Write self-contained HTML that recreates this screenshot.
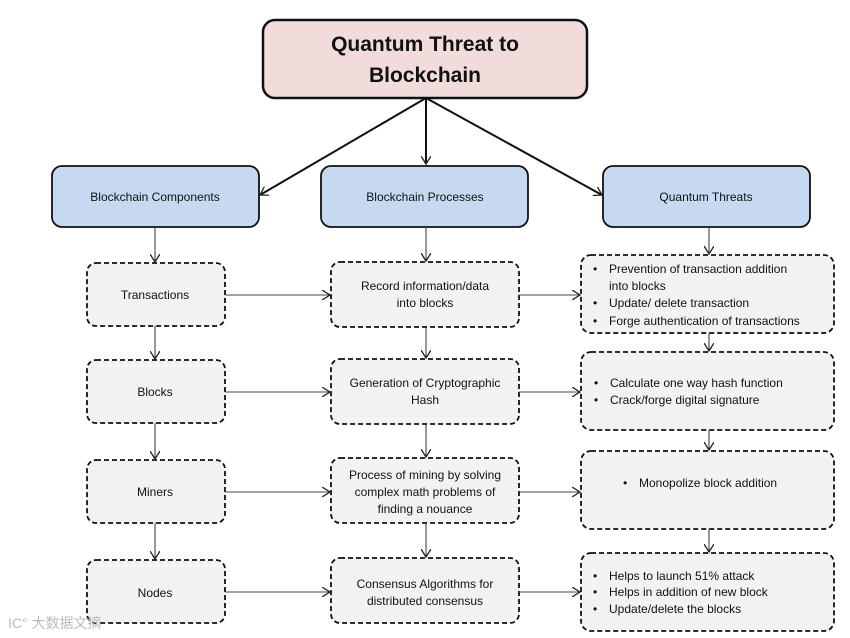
<!DOCTYPE html>
<html><head><meta charset="utf-8"><style>body{margin:0;background:#fff}svg{display:block}text{font-family:"Liberation Sans","DejaVu Sans",sans-serif;fill:#111}</style></head><body>
<svg width="850" height="638" viewBox="0 0 850 638" xmlns="http://www.w3.org/2000/svg">
<defs><marker id="a" markerWidth="10" markerHeight="10" refX="8" refY="5" orient="auto" markerUnits="userSpaceOnUse"><path d="M0,0 L8,5 L0,10" fill="none" stroke="#222" stroke-width="1.3"/></marker></defs>
<rect x="263" y="20" width="324" height="78" rx="12" fill="#f2dcdb" stroke="#111" stroke-width="2.5"/>
<text x="425" y="51" font-size="21" font-weight="bold" text-anchor="middle">Quantum Threat to</text>
<text x="425" y="82" font-size="21" font-weight="bold" text-anchor="middle">Blockchain</text>
<g stroke="#111" stroke-width="2" marker-end="url(#a)"><line x1="426" y1="98" x2="260" y2="195"/><line x1="426" y1="98" x2="426" y2="164"/><line x1="426" y1="98" x2="602" y2="195"/></g>
<g fill="#c6d9f1" stroke="#111" stroke-width="1.8">
<rect x="52" y="166" width="207" height="61" rx="10"/><rect x="321" y="166" width="207" height="61" rx="10"/><rect x="603" y="166" width="207" height="61" rx="10"/></g>
<g font-size="12" text-anchor="middle"><text x="155" y="201">Blockchain Components</text><text x="425" y="201">Blockchain Processes</text><text x="706" y="201">Quantum Threats</text></g>
<g fill="#f2f2f2" stroke="#111" stroke-width="1.8" stroke-dasharray="5,3">
<rect x="87" y="263" width="138" height="63" rx="9"/><rect x="87" y="360" width="138" height="63" rx="9"/><rect x="87" y="460" width="138" height="63" rx="9"/><rect x="87" y="560" width="138" height="63" rx="9"/>
<rect x="331" y="262" width="188" height="65" rx="9"/><rect x="331" y="359" width="188" height="65" rx="9"/><rect x="331" y="458" width="188" height="65" rx="9"/><rect x="331" y="558" width="188" height="65" rx="9"/>
<rect x="581" y="255" width="253" height="78" rx="10"/><rect x="581" y="352" width="253" height="78" rx="10"/><rect x="581" y="451" width="253" height="78" rx="10"/><rect x="581" y="553" width="253" height="78" rx="10"/></g>
<g stroke="#444" stroke-width="1.1" marker-end="url(#a)" fill="none">
<line x1="155" y1="227" x2="155" y2="262"/><line x1="426" y1="227" x2="426" y2="261"/><line x1="709" y1="227" x2="709" y2="254"/>
<line x1="155" y1="326" x2="155" y2="359"/><line x1="155" y1="423" x2="155" y2="459"/><line x1="155" y1="523" x2="155" y2="559"/>
<line x1="426" y1="327" x2="426" y2="358"/><line x1="426" y1="424" x2="426" y2="457"/><line x1="426" y1="523" x2="426" y2="557"/>
<line x1="709" y1="333" x2="709" y2="351"/><line x1="709" y1="430" x2="709" y2="450"/><line x1="709" y1="529" x2="709" y2="552"/>
<line x1="225" y1="295" x2="330" y2="295"/><line x1="225" y1="392" x2="330" y2="392"/><line x1="225" y1="492" x2="330" y2="492"/><line x1="225" y1="592" x2="330" y2="592"/>
<line x1="519" y1="295" x2="580" y2="295"/><line x1="519" y1="392" x2="580" y2="392"/><line x1="519" y1="492" x2="580" y2="492"/><line x1="519" y1="592" x2="580" y2="592"/></g>
<g font-size="12" text-anchor="middle">
<text x="155" y="299">Transactions</text><text x="155" y="396">Blocks</text><text x="155" y="496">Miners</text><text x="155" y="597">Nodes</text>
<text x="425" y="290">Record information/data</text><text x="425" y="307">into blocks</text>
<text x="425" y="387">Generation of Cryptographic</text><text x="425" y="404">Hash</text>
<text x="425" y="479">Process of mining by solving</text><text x="425" y="496">complex math problems of</text><text x="425" y="513">finding a nouance</text>
<text x="425" y="588">Consensus Algorithms for</text><text x="425" y="605">distributed consensus</text></g>
<g font-size="12">
<text x="593" y="273">•</text><text x="609" y="273">Prevention of transaction addition</text><text x="609" y="290">into blocks</text>
<text x="593" y="307">•</text><text x="609" y="307">Update/ delete transaction</text>
<text x="593" y="325">•</text><text x="609" y="325">Forge authentication of transactions</text>
<text x="594" y="387">•</text><text x="610" y="387">Calculate one way hash function</text>
<text x="594" y="404">•</text><text x="610" y="404">Crack/forge digital signature</text>
<text x="623" y="487">•</text><text x="639" y="487">Monopolize  block addition</text>
<text x="593" y="580">•</text><text x="609" y="580">Helps to launch 51% attack</text>
<text x="593" y="596">•</text><text x="609" y="596">Helps in addition of new block</text>
<text x="593" y="613">•</text><text x="609" y="613">Update/delete the blocks</text></g>
<text x="8" y="628" font-size="14" style="fill:#bbb;font-family:'Liberation Sans','Noto Sans CJK SC',sans-serif">IC° 大数据文摘</text>
</svg>
</body></html>
